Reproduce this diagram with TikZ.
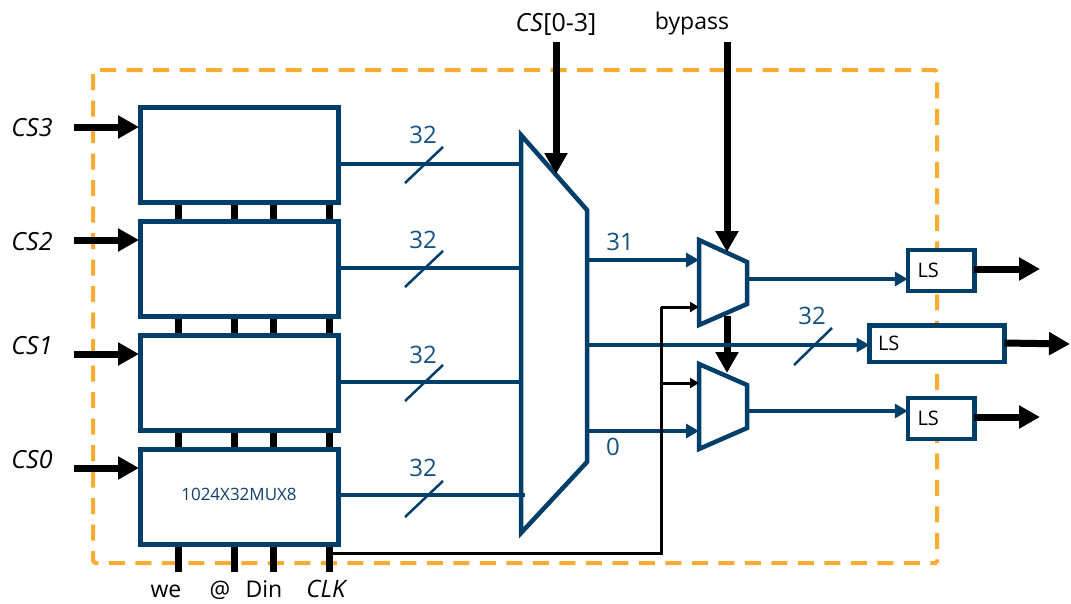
\documentclass[tikz,border=0pt]{standalone}
\usepackage{fontspec}
\setmainfont{Open Sans}
\usetikzlibrary{arrows.meta}
\definecolor{navy}{RGB}{2,62,106}
\definecolor{dashorange}{RGB}{250,172,50}
\definecolor{labelblue}{RGB}{20,80,130}
\tikzset{
  x=1pt,y=-1pt,
  membox/.style={draw=navy,line width=5pt,fill=white,minimum width=198pt,minimum height=95pt,inner sep=0pt,outer sep=0pt},
  lsbox/.style={draw=navy,line width=4.5pt,fill=white,inner sep=0pt,outer sep=0pt,font=\fontsize{20}{20}\selectfont,text=black},
  muxshape/.style={draw=navy,line width=4.5pt,fill=white,line join=miter},
  bus/.style={draw=navy,line width=4pt},
  busarrow/.style={bus,-{Triangle[length=13pt,width=14pt]}},
  thick arrow/.style={draw=black,line width=7pt,-{Triangle[length=21pt,width=22pt]}},
  stub/.style={draw=black,line width=7pt},
  clk/.style={draw=black,line width=3pt},
  clkarrow/.style={clk,-{Triangle[length=9pt,width=10pt]}},
  slash/.style={draw=navy,line width=2.5pt},
  buslabel/.style={text=labelblue,font=\fontsize{24}{24}\selectfont,inner sep=0pt},
  siglabel/.style={text=black,font=\fontsize{23}{23}\selectfont,inner sep=0pt},
  cslabel/.style={siglabel,font=\fontsize{25}{25}\selectfont\itshape},
  pinlabel/.style={siglabel,anchor=base},
  dashline/.style={dashorange,line width=4pt,dash pattern=on 16pt off 10.5pt,rounded corners=3pt},
}
\begin{document}
\begin{tikzpicture}
\useasboundingbox (0,0) rectangle (1071,603);
\fill[white] (0,0) rectangle (1071,603);
% dashed boundary
\draw[dashline] (100,70) -- (937,70) -- (937,563);
\draw[dashline] (93,74) -- (93,563) -- (937,563);
% stubs between and below memories
\foreach \sx/\sn in {178/a,234/b,273/c,329/d}{
  \coordinate (top\sn) at (\sx,203);
  \coordinate (bot\sn) at (\sx,572);
  \draw[stub] (top\sn) -- (bot\sn);
}
% memories
\node[membox] (m3) at (239,154.5) {};
\node[membox] (m2) at (239,268.5) {};
\node[membox] (m1) at (239,382.5) {};
\node[membox] (m0) at (239,496.5) {};
\node[text=labelblue!80!black,font=\fontsize{17}{17}\selectfont,inner sep=0pt] (memname) at (239,494) {1024X32MUX8};
% left inputs
\foreach \yy/\nn/\ll/\ly in {127/3/m3/128,240/2/m2/242,354/1/m1/346,468/0/m0/460}{
  \coordinate (in\nn) at (74,\yy);
  \coordinate (inend\nn) at (139,\yy);
  \draw[thick arrow] (in\nn) -- (inend\nn);
  \node[cslabel] (cs\nn) at (32,\ly) {CS\nn};
}
% big mux
\coordinate (bm1) at (521,135);
\coordinate (bm2) at (587,210);
\coordinate (bm3) at (587,462);
\coordinate (bm4) at (521,533);
\coordinate (bmo31) at (587,260);
\coordinate (bmomid) at (587,345);
\coordinate (bmo0) at (587,431);
% memory to mux buses
\foreach \yy/\nn/\sy/\ly in {164/3/165/135,268/2/269/240,382/1/383/355,495/0/499/468}{
  \coordinate (ms\nn) at (339,\yy);
  \coordinate (me\nn) at (525,\yy);
  \draw[bus] (ms\nn) -- (me\nn);
  \coordinate (sa\nn) at (405,\sy+18);
  \coordinate (sb\nn) at (443,\sy-18);
  \draw[slash] (sa\nn) -- (sb\nn);
  \node[buslabel] (w\nn) at (423,\ly) {32};
}
\draw[muxshape] (bm1) -- (bm2) -- (bm3) -- (bm4) -- cycle;
\draw[bus] (521,495) -- (525,495);
% small muxes
\coordinate (a1) at (699,240);
\coordinate (a2) at (747,262);
\coordinate (a3) at (747,304);
\coordinate (a4) at (699,325);
\coordinate (b1) at (699,364);
\coordinate (b2) at (747,385);
\coordinate (b3) at (747,428);
\coordinate (b4) at (699,449);
\coordinate (ain1) at (699,260);
\coordinate (ain2) at (699,307);
\coordinate (bin1) at (699,383);
\coordinate (bin2) at (699,431);
\coordinate (aout) at (747,279);
\coordinate (bout) at (747,411);
% select lines
\coordinate (sel) at (556,42);
\coordinate (seltip) at (556,174);
\draw[thick arrow] (sel) -- (seltip);
\node[siglabel,font=\fontsize{25}{25}\selectfont] (sellabel) at (556,24) {\textit{CS}[0-3]};
\coordinate (byp) at (727,42);
\coordinate (byptip) at (727,252);
\coordinate (bypmid) at (727,316);
\coordinate (byptip2) at (727,373);
\draw[thick arrow] (bypmid) -- (byptip2);
\draw[muxshape] (b1) -- (b2) -- (b3) -- (b4) -- cycle;
\draw[muxshape] (a1) -- (a2) -- (a3) -- (a4) -- cycle;
\draw[thick arrow] (byp) -- (byptip);
\node[siglabel] (byplabel) at (692,24) {bypass};
% LS boxes
\node[lsbox,minimum width=66.5pt,minimum height=41pt,text width=47pt,align=left] (ls1) at (941,270.5) {LS};
\node[lsbox,minimum width=135pt,minimum height=36.5pt,text width=118pt,align=left] (ls2) at (937,343.7) {LS};
\node[lsbox,minimum width=66.5pt,minimum height=41pt,text width=47pt,align=left] (ls3) at (941,418.7) {LS};
% buses to small muxes and LS
\draw[busarrow] (bmo31) -- (ain1);
\draw[busarrow] (bmo0) -- (bin2);
\coordinate (ls1in) at (ls1.west |- aout);
\coordinate (ls3in) at (ls3.west |- bout);
\draw[busarrow] (aout) -- (ls1in);
\draw[busarrow] (bout) -- (ls3in);
\coordinate (ls2in) at (ls2.west |- bmomid);
\draw[busarrow] (bmomid) -- (ls2in);
\coordinate (s4a) at (794,365);
\coordinate (s4b) at (832,328);
\draw[slash] (s4a) -- (s4b);
\node[buslabel] (w4) at (812,316) {32};
\node[buslabel] (l31) at (620,242) {31};
\node[buslabel] (l0) at (613,447) {0};
% clock
\coordinate (clks) at (332,553);
\coordinate (clkc) at (661,553);
\coordinate (clkup) at (661,307);
\coordinate (clkj) at (661,383);
\fill[black] (clkj) circle (1.5pt);
\draw[clk] (clks) -- (clkc) -- (clkup);
\draw[clkarrow] (clkup) -- (ain2);
\draw[clkarrow] (clkj) -- (bin1);
% outputs
\coordinate (o1) at (1040,269);
\coordinate (o2) at (1070,344);
\coordinate (o3) at (1040,417);
\draw[thick arrow] (ls1.east |- o1) -- (o1);
\draw[thick arrow] (ls2.east |- 0,343) -- (o2);
\draw[thick arrow] (ls3.east |- o3) -- (o3);
% bottom labels
\node[pinlabel] (we) at (166,597) {we};
\node[pinlabel] (addr) at (220,597) {@};
\node[pinlabel] (din) at (264,597) {Din};
\node[pinlabel,font=\fontsize{24}{24}\selectfont\itshape] (clkl) at (326,597) {CLK};
\end{tikzpicture}
\end{document}
